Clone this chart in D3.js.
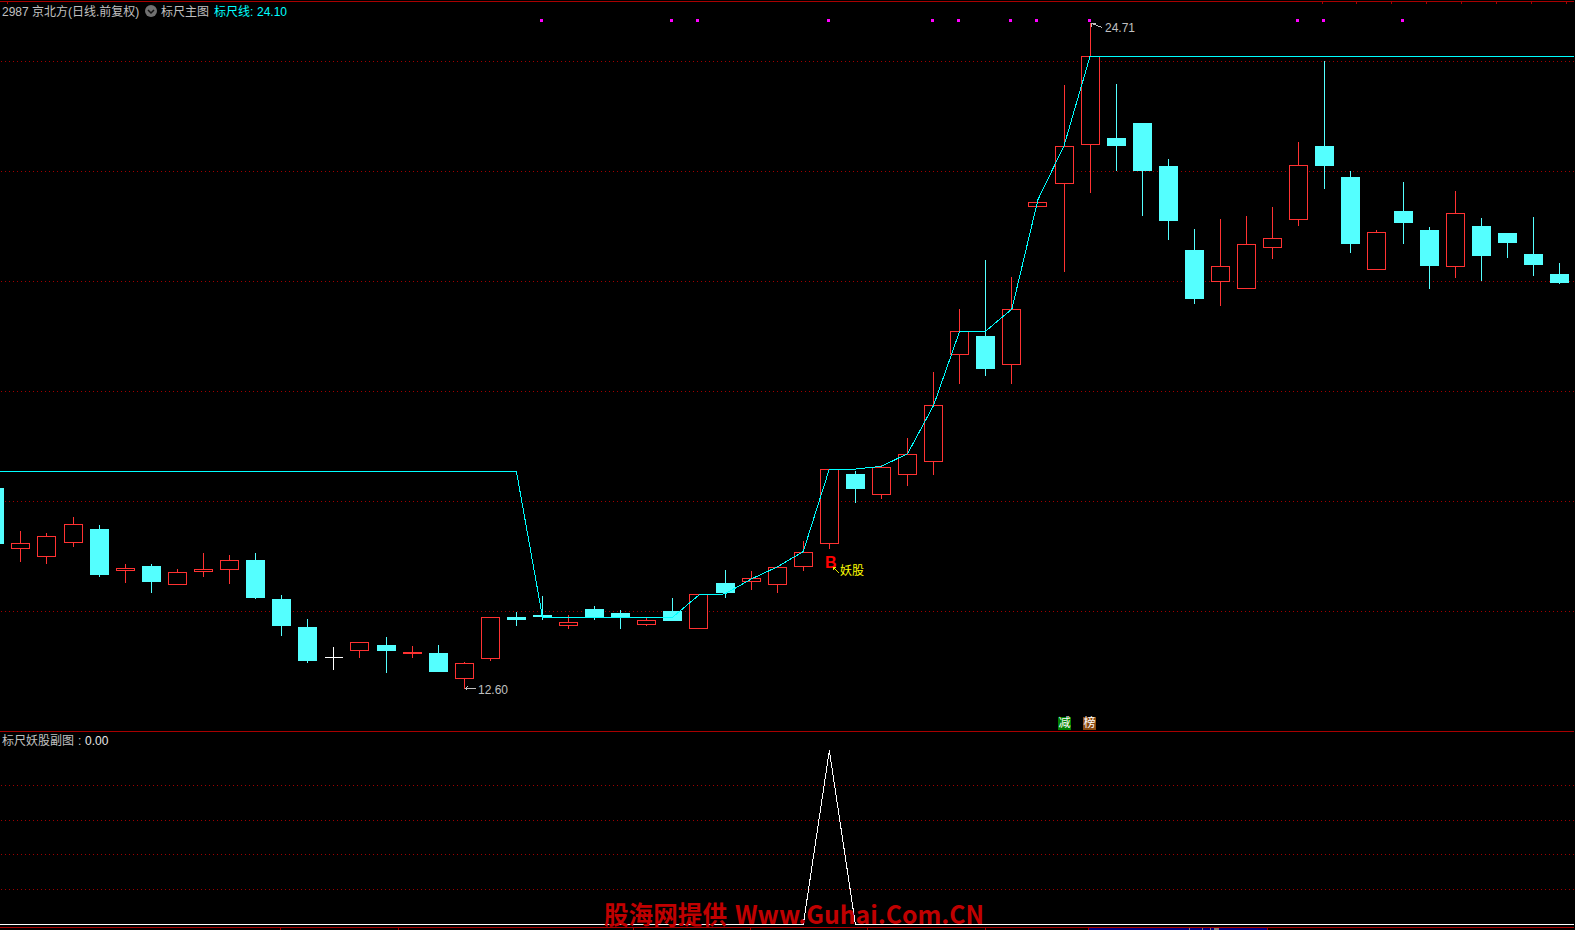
<!DOCTYPE html>
<html>
<script src="https://d3js.org/d3.v7.min.js"></script>

<head>
    <meta charset="utf-8">
    <style>
        html,
        body {
            margin: 0;
            padding: 0;
            background-color: #000;
            overflow: hidden;
        }

        svg {
            display: block;
        }

        text {
            font-family: "Liberation Sans", "Noto Sans CJK SC", sans-serif;
            font-size: 12px;
        }
    </style>
</head>

<body>
</body>
<script>
    // index -1 is the candle cut off by the left edge
    const firstIndex = -1;
    const opens = [16.25, 15.15, 15.01, 15.26, 15.51, 14.75, 14.84, 14.50, 14.73, 14.77, 14.95, 14.24, 13.73, 13.18, 13.30, 13.40, 13.24, 13.26, 12.79, 13.15,
        13.91, 13.95, 13.75, 14.05, 13.98, 13.77, 14.02, 13.70, 14.53, 14.55, 14.50, 14.82, 15.24, 16.51, 16.13, 16.50, 16.74, 18.68, 19.02, 18.50,
        21.37, 21.79, 22.50, 22.62, 22.89, 22.11, 20.58, 20.01, 19.88, 20.62, 21.13, 22.47, 21.91, 20.22, 21.29, 20.95, 20.28, 21.02, 20.89, 20.51, 20.15];
    const highs = [16.25, 15.47, 15.43, 15.73, 15.58, 14.87, 14.87, 14.78, 15.07, 15.04, 15.07, 14.31, 13.87, 13.36, 13.45, 13.55, 13.38, 13.40, 13.09, 13.90,
        14.00, 14.29, 13.95, 14.11, 14.04, 13.89, 14.25, 14.31, 14.76, 14.75, 14.81, 15.29, 16.59, 16.56, 16.67, 17.16, 18.36, 19.51, 20.40, 20.09,
        21.45, 23.58, 24.71, 23.60, 22.89, 22.24, 20.96, 21.15, 21.20, 21.36, 22.55, 24.02, 22.02, 20.95, 21.82, 21.00, 21.66, 21.16, 20.89, 21.18, 20.35];
    const lows = [15.24, 14.91, 14.87, 15.18, 14.64, 14.53, 14.35, 14.50, 14.64, 14.51, 14.24, 13.56, 13.07, 12.95, 13.16, 12.89, 13.16, 12.91, 12.60, 13.11,
        13.75, 13.85, 13.69, 13.85, 13.69, 13.75, 13.84, 13.70, 14.25, 14.40, 14.35, 14.75, 15.15, 15.98, 16.05, 16.29, 16.49, 18.15, 18.29, 18.15,
        21.37, 20.18, 21.62, 22.02, 21.20, 20.76, 19.60, 19.56, 19.88, 20.42, 21.02, 21.69, 20.53, 20.22, 20.69, 19.87, 20.07, 20.02, 20.44, 20.11, 19.96];
    const closes = [15.24, 15.25, 15.38, 15.59, 14.67, 14.80, 14.55, 14.72, 14.78, 14.94, 14.25, 13.75, 13.11, 13.18, 13.45, 13.29, 13.27, 12.91, 13.07, 13.90,
        13.85, 13.91, 13.81, 13.90, 13.90, 13.85, 13.84, 14.31, 14.35, 14.61, 14.81, 15.09, 16.59, 16.24, 16.63, 16.87, 17.75, 19.10, 18.42, 19.50,
        21.45, 22.47, 24.10, 22.47, 22.02, 21.11, 19.69, 20.29, 20.69, 20.80, 22.12, 22.11, 20.69, 20.90, 21.07, 20.29, 21.25, 20.47, 20.71, 20.31, 19.98];

    // ruler line, index -1 up to 60 (runs off the right edge)
    const rulerValues = [16.55, 16.55, 16.55, 16.55, 16.55, 16.55, 16.55, 16.55, 16.55, 16.55, 16.55, 16.55, 16.55, 16.55, 16.55, 16.55, 16.55, 16.55, 16.55, 16.55, 16.55,
        13.90, 13.90, 13.90, 13.90, 13.90, 13.90,
        14.30, 14.32, 14.59, 14.81, 15.09, 16.59, 16.59, 16.64, 16.87, 17.75, 19.10, 19.10, 19.50, 21.49, 22.47,
        24.10, 24.10, 24.10, 24.10, 24.10, 24.10, 24.10, 24.10, 24.10, 24.10, 24.10, 24.10, 24.10, 24.10, 24.10, 24.10, 24.10, 24.10, 24.10, 24.10];
    // lower panel signal, same index range
    const signalValues = [0, 0, 0, 0, 0, 0, 0, 0, 0, 0, 0, 0, 0, 0, 0, 0, 0, 0, 0, 0, 0, 0, 0, 0, 0, 0, 0, 0, 0, 0, 0, 0,
        1,
        0, 0, 0, 0, 0, 0, 0, 0, 0, 0, 0, 0, 0, 0, 0, 0, 0, 0, 0, 0, 0, 0, 0, 0, 0, 0, 0, 0, 0];

    const priceTicks = [14, 16, 18, 20, 22, 24];
    const signalTicks = [0.2, 0.4, 0.6, 0.8];
    const markIndexes = [20, 25, 26, 31, 35, 36, 38, 39, 41, 49, 50, 53];
    const topTicks = [7, 1322, 1356, 1391, 1426, 1461, 1496, 1531, 1566];
    const bottomTicks = [280, 398, 633, 750, 867, 985, 1088, 1267];

    const width = 1575,
        height = 930;
    const frameRed = "#a80000",
        gridRed = "#a00000",
        candleRed = "#ff3232",
        candleCyan = "#54ffff",
        textGrey = "#c0c0c0";

    const svg = d3.select("body").append("svg").attr("width", width).attr("height", height);
    svg.append("rect").attr("width", width).attr("height", height).attr("fill", "#000");
    svg.append("defs").append("clipPath").attr("id", "plot")
        .append("rect").attr("width", 1574).attr("height", height);

    const xScale = d3.scaleLinear().domain([0, 59]).range([20.92, 1559.52]);
    const yScale = d3.scaleLinear().domain([12.60, 24.71]).range([688.5, 22.5]);
    const signalScale = d3.scaleLinear().domain([0, 1]).range([924.5, 750.5]);
    // snap to the pixel grid, the original is drawn without anti-aliasing
    const snap = v => Math.round(v - 0.5) + 0.5;
    const rowCentre = v => Math.round(v) + 0.5;
    const rowEdge = v => Math.round(v + 0.5);

    function hline(y, color, x1 = 0, x2 = 1574, dash = null) {
        svg.append("line")
            .attr("x1", x1).attr("x2", x2)
            .attr("y1", y).attr("y2", y)
            .attr("stroke", color)
            .attr("stroke-dasharray", dash)
            .attr("shape-rendering", "crispEdges");
    }

    function label(x, y, str, color = textGrey, size = 12) {
        return svg.append("text")
            .attr("x", x)
            .attr("y", y)
            .attr("fill", color)
            .attr("font-size", size)
            .style("font-size", size + "px")
            .attr("dominant-baseline", "middle")
            .text(str);
    }

    function drawFrame() {
        hline(1.5, frameRed);
        hline(731.5, frameRed);
        hline(927.5, frameRed);
        svg.append("rect")
            .attr("x", 1088).attr("y", 928).attr("width", 179).attr("height", 2)
            .attr("fill", "#000080");
        topTicks.forEach(x => {
            svg.append("rect").attr("x", x).attr("y", 2).attr("width", 1).attr("height", 2).attr("fill", frameRed);
        });
        bottomTicks.forEach(x => {
            svg.append("rect").attr("x", x).attr("y", 928).attr("width", 1).attr("height", 2).attr("fill", frameRed);
        });
        [[1189, 1], [1202, 1], [1210, 1], [1214, 5]].forEach(d => {
            svg.append("rect").attr("x", d[0]).attr("y", 928).attr("width", d[1]).attr("height", 2).attr("fill", "#808080");
        });
        priceTicks.forEach(t => hline(snap(yScale(t)), gridRed, 1, 1574, "1 3"));
        signalTicks.forEach(t => hline(snap(signalScale(t)), gridRed, 1, 1574, "1 3"));
    }

    function drawCandles() {
        opens.forEach((open, n) => {
            const i = n + firstIndex;
            const close = closes[n];
            const color = close > open ? candleRed : close < open ? candleCyan : "#fff";
            const cx = snap(xScale(i));
            const bodyHigh = yScale(Math.max(open, close));
            const bodyLow = yScale(Math.min(open, close));
            const g = svg.append("g").attr("shape-rendering", "crispEdges").attr("stroke", color);
            g.append("line").attr("x1", cx).attr("x2", cx)
                .attr("y1", rowEdge(yScale(highs[n]))).attr("y2", rowEdge(bodyHigh));
            g.append("line").attr("x1", cx).attr("x2", cx)
                .attr("y1", rowEdge(bodyLow)).attr("y2", rowEdge(yScale(lows[n])));
            if (close < open) {
                // falling candles are solid
                g.append("rect")
                    .attr("x", cx - 9.5)
                    .attr("y", rowEdge(bodyHigh))
                    .attr("width", 19)
                    .attr("height", rowEdge(bodyLow) - rowEdge(bodyHigh))
                    .attr("stroke", "none")
                    .attr("fill", color);
            } else if (close === open) {
                g.append("line").attr("x1", cx - 9).attr("x2", cx + 9)
                    .attr("y1", rowCentre(bodyHigh)).attr("y2", rowCentre(bodyHigh));
            } else {
                g.append("rect")
                    .attr("x", cx - 9)
                    .attr("y", rowCentre(bodyHigh))
                    .attr("width", 18)
                    .attr("height", rowCentre(bodyLow) - rowCentre(bodyHigh))
                    .attr("fill", "#000");
            }
        });
    }

    function drawLines() {
        const plot = svg.append("g").attr("clip-path", "url(#plot)");
        const line = scale => d3.line()
            .x((d, n) => xScale(n + firstIndex))
            .y(d => scale(d));
        plot.append("path")
            .datum(rulerValues)
            .attr("fill", "none")
            .attr("stroke", "#00ffff")
            .attr("shape-rendering", "crispEdges")
            .attr("d", line(yScale));
        plot.append("path")
            .datum(signalValues)
            .attr("fill", "none")
            .attr("stroke", "#fff")
            .attr("shape-rendering", "crispEdges")
            .attr("d", line(signalScale));
    }

    function drawMarks() {
        markIndexes.forEach(i => {
            svg.append("rect")
                .attr("x", Math.floor(xScale(i)) - 2)
                .attr("y", 19)
                .attr("width", 3)
                .attr("height", 3)
                .attr("fill", "#ff00ff");
        });
        // high and low pointers
        const lowX = snap(xScale(17));
        const highX = snap(xScale(41));
        const pointers = svg.append("g").attr("stroke", textGrey).attr("fill", "none").attr("shape-rendering", "crispEdges");
        pointers.append("path").attr("d", `M${lowX + 1},688.5H${lowX + 11}M${lowX + 3},686.5L${lowX + 1},688.5L${lowX + 3},690.5`);
        pointers.append("path").attr("d", `M${highX + 1},23.5L${highX + 12},27.5M${highX + 1},23.5H${highX + 5}M${highX + 1},23.5V27`);
        label(lowX + 13.5, 690.5, "12.60");
        label(highX + 14.5, 29, "24.71");

        svg.append("text")
            .attr("x", 825).attr("y", 563.5)
            .attr("fill", "#ff0000")
            .attr("font-weight", "bold")
            .style("font-size", "16px")
            .attr("dominant-baseline", "middle")
            .text("B");
        svg.append("path")
            .attr("d", "M833,567L839,573M833,567H836M833,567V570")
            .attr("stroke", "#e6e600")
            .attr("fill", "none")
            .attr("shape-rendering", "crispEdges");
        label(840, 572, "妖股", "#ffff00");
    }

    function drawHeader() {
        label(2, 12.5, "2987 京北方(日线.前复权)");
        svg.append("circle").attr("cx", 151).attr("cy", 11).attr("r", 6).attr("fill", "#707070");
        svg.append("path").attr("d", "M148,10L151,13L154,10").attr("stroke", "#111").attr("stroke-width", 1.5).attr("fill", "none");
        label(161, 12.5, "标尺主图");
        label(214, 12.5, "标尺线:", "#00ffff");
        label(257, 12.5, "24.10", "#00ffff");

        label(2, 742, "标尺妖股副图");
        label(78, 742, ":");
        label(85, 742, "0.00", "#e8e8e8");

        [["减", 1058, "#008000"], ["榜", 1083, "#8a4a10"]].forEach(d => {
            svg.append("rect").attr("x", d[1]).attr("y", 717).attr("width", 13).attr("height", 13).attr("fill", d[2]);
            label(d[1] + 0.5, 724, d[0], "#fff");
        });
    }

    function drawWatermark() {
        const mark = (x, w, str) => svg.append("text")
            .attr("x", x)
            .attr("y", 924)
            .attr("fill", "#c00000")
            .attr("font-weight", "bold")
            .style("font-family", '"Noto Sans CJK SC", sans-serif')
            .style("font-size", "25px")
            .attr("textLength", w)
            .attr("lengthAdjust", "spacingAndGlyphs")
            .text(str);
        mark(604, 123, "股海网提供");
        mark(735, 249, "Www.Guhai.Com.CN");
    }

    drawFrame();
    drawCandles();
    drawLines();
    drawMarks();
    drawHeader();
    drawWatermark();
</script>

</html>
